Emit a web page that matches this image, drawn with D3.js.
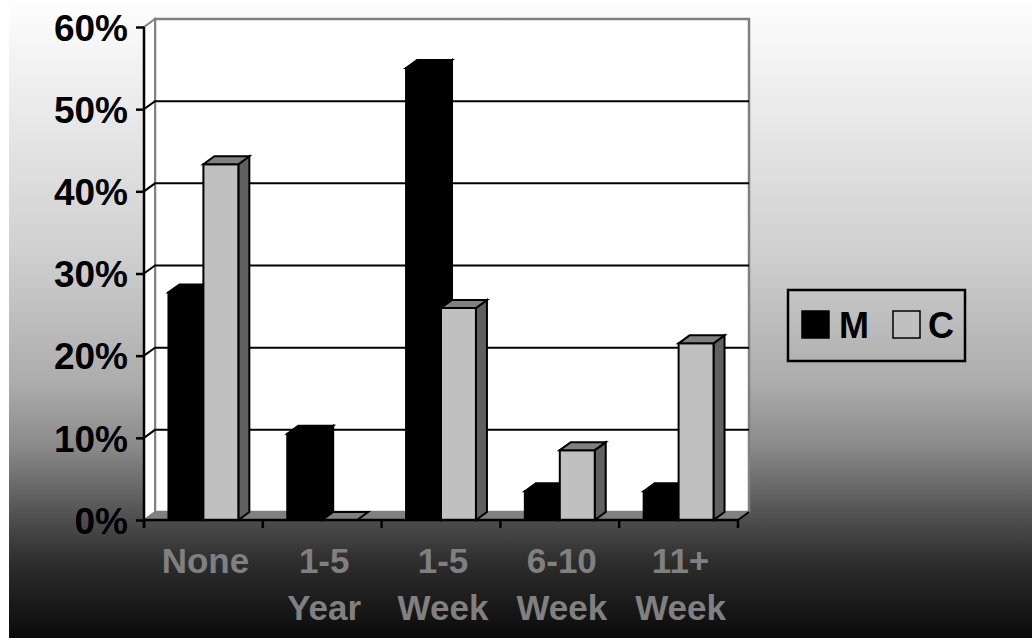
<!DOCTYPE html>
<html>
<head>
<meta charset="utf-8">
<script src="https://cdn.jsdelivr.net/npm/d3@7"></script>
<style>
  html, body { margin: 0; padding: 0; background: #ffffff; }
  svg { display: block; }
  text { font-family: "Liberation Sans", Arial, Helvetica, sans-serif; font-weight: bold; }
</style>
</head>
<body>
<svg id="chart" width="1032" height="638"></svg>
<script>
// Share of respondents by time period, two groups (M and C)
const categories = ["None", "1-5 Year", "1-5 Week", "6-10 Week", "11+ Week"];
const categoryLines = [["None"], ["1-5", "Year"], ["1-5", "Week"], ["6-10", "Week"], ["11+", "Week"]];
const seriesNames = ["M", "C"];
const valuesM = [0.277, 0.105, 0.550, 0.035, 0.035];
const valuesC = [0.433, 0.000, 0.258, 0.085, 0.215];
const yTicks = [0, 0.1, 0.2, 0.3, 0.4, 0.5, 0.6];

const svg = d3.select("#chart");
const W = 1032, H = 638;

// Background: vertical grey ramp, light at the top to near black at the bottom
const defs = svg.append("defs");
const grad = defs.append("linearGradient").attr("id", "bg").attr("x1", 0).attr("y1", 0).attr("x2", 0).attr("y2", 1);
[[0, "#fefefe"], [0.4, "#cfcfcf"], [0.6, "#acacac"], [0.7, "#8a8a8a"], [0.8, "#555555"], [0.88, "#2e2e2e"], [1, "#0a0a0a"]]
  .forEach(([o, c]) => grad.append("stop").attr("offset", o).attr("stop-color", c));
svg.append("rect").attr("x", 9).attr("y", 0).attr("width", W - 9).attr("height", H).attr("fill", "url(#bg)");

// 3D frame: front plane through the axes, back wall shifted by (DX, -DY)
const DX = 11, DY = 8;
const x = d3.scaleBand().domain(categories).range([144, 738]).paddingInner(0).paddingOuter(0);
const y = d3.scaleLinear().domain([0, 0.6]).range([520, 27]);
const xs = d3.scaleBand().domain(seriesNames).range([0, x.bandwidth()]).paddingInner(0).paddingOuter(0.7);

const xL = x.range()[0], xR = x.range()[1];
const line = d3.line();

// Back wall
svg.append("rect")
  .attr("x", xL + DX).attr("y", y(0.6) - DY)
  .attr("width", xR - xL).attr("height", y(0) - y(0.6))
  .attr("fill", "#ffffff").attr("stroke", "#808080").attr("stroke-width", 2.5);

// Side wall
svg.append("path")
  .attr("d", line([[xL, y(0)], [xL, y(0.6)], [xL + DX, y(0.6) - DY], [xL + DX, y(0) - DY]]) + "Z")
  .attr("fill", "#ffffff").attr("stroke", "#808080").attr("stroke-width", 2);

// Floor
svg.append("path")
  .attr("d", line([[xL, y(0)], [xR, y(0)], [xR + DX, y(0) - DY], [xL + DX, y(0) - DY]]) + "Z")
  .attr("fill", "#808080");
svg.append("path")
  .attr("d", line([[xR, y(0)], [xR + DX, y(0) - DY]]))
  .attr("stroke", "#000").attr("stroke-width", 2).attr("fill", "none");

// Gridlines on the back wall and side wall
const grid = svg.append("g").attr("stroke", "#000").attr("stroke-width", 2).attr("fill", "none");
yTicks.filter(t => t > 0 && t < 0.6).forEach(t => {
  grid.append("path").attr("d", line([[xL, y(t)], [xL + DX, y(t) - DY], [xR + DX, y(t) - DY]]));
});

// Bars
function barFaces(x0, w, v) {
  const yt = y(v), yb = y(0);
  return {
    front: [[x0, yb], [x0, yt], [x0 + w, yt], [x0 + w, yb]],
    top: [[x0, yt], [x0 + DX, yt - DY], [x0 + w + DX, yt - DY], [x0 + w, yt]],
    side: [[x0 + w, yb], [x0 + w, yt], [x0 + w + DX, yt - DY], [x0 + w + DX, yb - DY]]
  };
}
const seriesStyle = {
  M: { front: "#000000", top: "#000000", side: "#000000", stroke: "#000000" },
  C: { front: "#c0c0c0", top: "#808080", side: "#606060", stroke: "#000000" }
};
const bars = svg.append("g");
categories.forEach((cat, i) => {
  [["M", valuesM[i]], ["C", valuesC[i]]].forEach(([s, v]) => {
    const x0 = x(cat) + xs(s), w = xs.bandwidth();
    const f = barFaces(x0, w, v);
    const st = seriesStyle[s];
    const g = bars.append("g").attr("stroke", st.stroke).attr("stroke-width", 2).attr("stroke-linejoin", "miter");
    if (v > 0) {
      g.append("path").attr("d", line(f.side) + "Z").attr("fill", st.side);
      g.append("path").attr("d", line(f.front) + "Z").attr("fill", st.front);
    }
    g.append("path").attr("d", line(f.top) + "Z").attr("fill", st.top);
  });
});

// Value axis
const yAxis = svg.append("g").attr("transform", `translate(${xL},0)`)
  .call(d3.axisLeft(y).tickValues(yTicks).tickFormat(d3.format(".0%")).tickSize(8).tickPadding(8));
yAxis.select(".domain").attr("stroke", "#000").attr("stroke-width", 2.5).attr("d", `M0,${y(0) + 8}V${y(0.6)}`);
yAxis.selectAll(".tick line").attr("stroke", "#000").attr("stroke-width", 2.5);
yAxis.selectAll(".tick text")
  .attr("fill", "#000").attr("font-size", 37).attr("dy", "0.36em")
  .style("font-family", '"Liberation Sans", Arial, sans-serif').style("font-weight", "bold");

// Category axis
const xAxis = svg.append("g").attr("transform", `translate(0,${y(0)})`)
  .call(d3.axisBottom(x).tickSize(0).tickFormat(""));
xAxis.select(".domain").attr("stroke", "#000").attr("stroke-width", 2.5).attr("d", `M${xL},0H${xR}`);
const boundaries = categories.map(c => x(c)).concat([xR]);
xAxis.selectAll(".bound").data(boundaries).join("line").attr("class", "bound")
  .attr("x1", d => d).attr("x2", d => d).attr("y1", 0).attr("y2", 8)
  .attr("stroke", "#000").attr("stroke-width", 2.5);

const labels = svg.append("g").attr("fill", "#808080").attr("font-size", 35).attr("text-anchor", "middle");
categories.forEach((cat, i) => {
  const cx = x(cat) + x.bandwidth() / 2 + 2;
  const t = labels.append("text").attr("x", cx).attr("y", 573);
  categoryLines[i].forEach((ln, j) => {
    t.append("tspan").attr("x", cx).attr("y", 573 + j * 47).text(ln);
  });
});

// Legend
const legend = svg.append("g");
legend.append("rect").attr("x", 788).attr("y", 290).attr("width", 177).attr("height", 71)
  .attr("fill", "none").attr("stroke", "#000").attr("stroke-width", 2.5);
const legendItems = [
  { name: seriesNames[0], fill: seriesStyle.M.front, sx: 802, tx: 839 },
  { name: seriesNames[1], fill: seriesStyle.C.front, sx: 893, tx: 928 }
];
legendItems.forEach(d => {
  legend.append("rect").attr("x", d.sx).attr("y", 311).attr("width", 27).attr("height", 27)
    .attr("fill", d.fill).attr("stroke", "#000").attr("stroke-width", 1.5);
  legend.append("text").attr("x", d.tx).attr("y", 338).attr("font-size", 36).attr("fill", "#000").text(d.name);
});
</script>
</body>
</html>
